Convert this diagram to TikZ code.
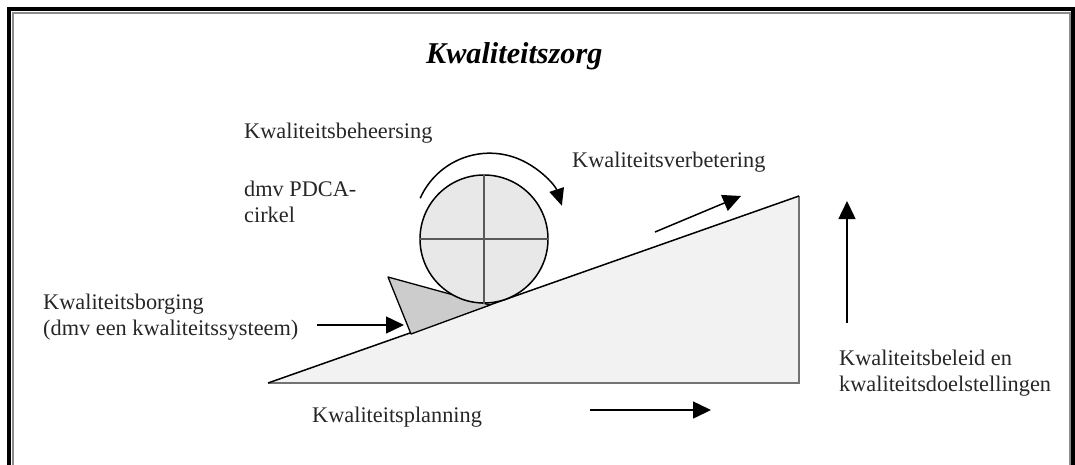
\documentclass[tikz,border=0pt]{standalone}
\usepackage{fontspec}
\setmainfont{Liberation Serif}
\usetikzlibrary{arrows.meta}
\begin{document}
\begin{tikzpicture}[x=1pt,y=-1pt,
  lbl/.style={anchor=base west,inner sep=0pt,text=black!85,font=\fontsize{22.3}{26}\selectfont,align=left},
  arr/.style={line width=1.5pt,-{Triangle[length=18pt,width=17pt]}},
  edge/.style={line width=1.5pt}]
\useasboundingbox (0,0) rectangle (1075,464);
% frame
\draw[black!45,line width=2pt] (12.5,470) -- (12.5,12.5) -- (1070,12.5) -- (1070,470);
\draw[black,line width=4pt] (9,470) -- (9,9) -- (1073,9) -- (1073,470);
% slope triangle
\coordinate (L) at (268,383);
\coordinate (R) at (799,383);
\coordinate (T) at (799,196);
\fill[black!5] (L) -- (T) -- (R) -- cycle;
\draw[black!55,line width=2pt] (L) -- (R) -- (T);
\draw[edge] (L) -- (T);
% wedge
\coordinate (w1) at (388,277);
\coordinate (w2) at (411,334);
\coordinate (w3) at (490,305);
\filldraw[fill=black!20,draw=black,line width=1.3pt,line join=round] (w1) -- (w2) -- (w3) -- cycle;
% PDCA circle
\node[circle,draw,line width=1.5pt,fill=black!9,minimum size=128pt,inner sep=0pt] (pdca) at (484,239) {};
\draw[black!65,line width=1.5pt] (pdca.north) -- (pdca.south);
\draw[black!65,line width=1.5pt] (pdca.west) -- (pdca.east);
% rotation arrow
\coordinate (rc) at (489.6,229.2);
\draw[line width=1.5pt,-{Triangle[length=17pt,width=15pt]}] (rc) ++(-156:76) arc[start angle=-156,end angle=-18,radius=76];
% labels (multi-line nodes: base = last line)
\node[lbl,font=\fontsize{30.2}{34}\selectfont\bfseries\itshape,text=black] (title) at (426,63) {Kwaliteitszorg};
\node[lbl] (beh) at (244,138) {Kwaliteitsbeheersing};
\node[lbl] (pdcat) at (244,222) {dmv PDCA-\\cirkel};
\node[lbl] (borg) at (43,335) {Kwaliteitsborging\\(dmv een kwaliteitssysteem)};
\node[lbl] (verb) at (572,167) {Kwaliteitsverbetering};
\node[lbl] (plan) at (312,422) {Kwaliteitsplanning};
\node[lbl] (bel) at (839,391) {Kwaliteitsbeleid en\\kwaliteitsdoelstellingen};
% arrows
\coordinate (b0) at (317,325);
\coordinate (b1) at (404,325);
\draw[arr] (b0) -- (b1);
\coordinate (v0) at (655,232);
\coordinate (v1) at (741,196);
\draw[arr] (v0) -- (v1);
\coordinate (p0) at (590,410);
\coordinate (p1) at (711,410);
\draw[arr] (p0) -- (p1);
\coordinate (u0) at (847,323);
\coordinate (u1) at (847,201);
\draw[arr] (u0) -- (u1);
\end{tikzpicture}
\end{document}
